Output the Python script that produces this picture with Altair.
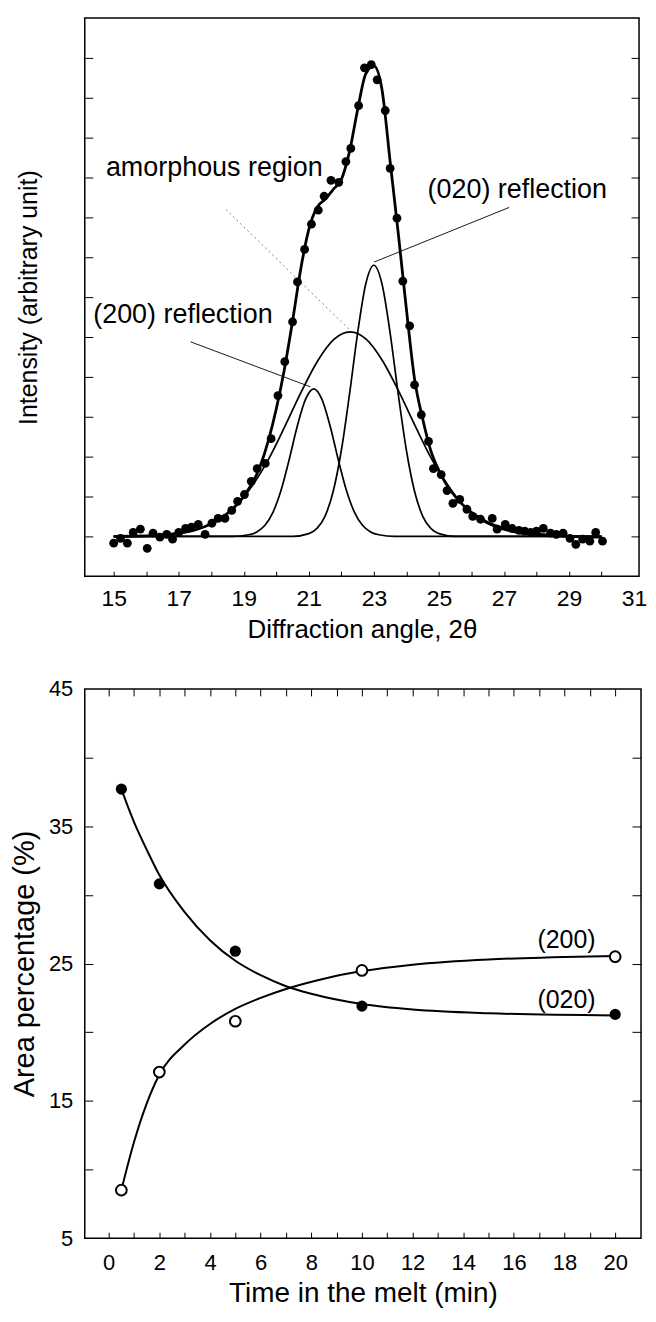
import altair as alt
import pandas as pd

FONT = "Liberation Sans"

# ---------------- top panel: X-ray diffraction profile ----------------
xrd_angle = [15.00, 15.21, 15.42, 15.60, 15.82, 16.03, 16.21, 16.42, 16.63, 16.81,
             17.00, 17.21, 17.39, 17.60, 17.81, 18.02, 18.21, 18.42, 18.63, 18.81,
             19.02, 19.23, 19.41, 19.66, 19.84, 20.05, 20.26, 20.50, 20.65, 20.87,
             21.08, 21.29, 21.47, 21.68, 21.92, 22.14, 22.29, 22.53, 22.71, 22.92,
             23.10, 23.35, 23.50, 23.71, 23.89, 24.10, 24.25, 24.46, 24.68, 24.83,
             25.07, 25.25, 25.43, 25.64, 25.86, 26.04, 26.28, 26.64, 26.79, 27.04,
             27.25, 27.46, 27.64, 27.82, 28.00, 28.21, 28.43, 28.61, 28.82, 29.03,
             29.21, 29.42, 29.64, 29.82, 30.03]
xrd_intensity = [0.83, 0.95, 0.83, 1.10, 1.18, 0.70, 1.08, 0.98, 1.05, 0.93,
                 1.10, 1.20, 1.23, 1.30, 1.05, 1.33, 1.45, 1.45, 1.65, 1.88,
                 2.05, 2.38, 2.70, 2.83, 3.45, 4.53, 5.38, 6.38, 7.38, 8.20,
                 8.83, 9.18, 9.53, 9.93, 9.88, 10.40, 10.73, 11.80, 12.75, 12.83,
                 12.45, 11.68, 10.23, 8.98, 7.40, 6.28, 4.80, 4.05, 3.38, 2.70,
                 2.55, 2.15, 1.83, 1.93, 1.68, 1.50, 1.43, 1.45, 1.18, 1.30,
                 1.20, 1.15, 1.13, 1.10, 1.13, 1.20, 1.08, 1.05, 1.08, 0.95,
                 0.80, 0.93, 0.88, 1.10, 0.88]

fit_angle = [15.0, 16.0, 17.0, 17.5, 18.0, 18.5, 19.0, 19.5, 20.0, 20.25,
             20.5, 20.75, 21.0, 21.25, 21.5, 21.75, 22.0, 22.25, 22.5, 22.75,
             23.0, 23.25, 23.5, 23.75, 24.0, 24.25, 24.5, 24.75, 25.0, 25.5,
             26.0, 26.5, 27.0, 28.0, 29.0, 30.0]
fit_intensity = [1.00, 1.01, 1.08, 1.16, 1.32, 1.58, 2.00, 2.75, 4.20, 5.20,
                 6.40, 7.70, 8.70, 9.25, 9.45, 9.70, 9.95, 10.65, 11.70, 12.60,
                 12.80, 12.20, 10.40, 8.60, 6.70, 4.95, 3.95, 3.15, 2.65, 2.00,
                 1.60, 1.35, 1.20, 1.06, 1.00, 0.98]

c200_angle = [15.0, 18.65, 19.15, 19.4, 19.65, 19.9, 20.15, 20.4, 20.65, 20.9, 21.15,
              21.4, 21.65, 21.9, 22.15, 22.4, 22.65, 22.9, 23.15, 23.65, 30.0]
c200_intensity = [1.0, 1.00, 1.04, 1.11, 1.28, 1.61, 2.17, 2.94, 3.78, 4.44, 4.70,
                  4.44, 3.78, 2.94, 2.17, 1.61, 1.28, 1.11, 1.04, 1.00, 1.0]

c020_angle = [15.0, 20.5, 21.0, 21.25, 21.5, 21.75, 22.0, 22.25, 22.5, 22.75, 23.0,
              23.25, 23.5, 23.75, 24.0, 24.25, 24.5, 24.75, 25.0, 25.5, 30.0]
c020_intensity = [1.0, 1.00, 1.07, 1.20, 1.51, 2.13, 3.16, 4.56, 6.10, 7.33, 7.80,
                  7.33, 6.10, 4.56, 3.16, 2.13, 1.51, 1.20, 1.07, 1.00, 1.0]

amor_angle = [15.0, 16.27, 17.27, 18.27, 18.77, 19.27, 19.77, 20.27, 20.77, 21.27, 21.77,
              22.27, 22.77, 23.27, 23.77, 24.27, 24.77, 25.27, 25.77, 26.27, 27.27, 28.27, 30.0]
amor_intensity = [1.0, 1.02, 1.11, 1.43, 1.77, 2.28, 2.95, 3.77, 4.63, 5.40, 5.94,
                  6.13, 5.94, 5.40, 4.63, 3.77, 2.95, 2.28, 1.77, 1.43, 1.11, 1.02, 1.0]

label_text = ["amorphous region", "(200) reflection", "(020) reflection"]
label_x = [14.76, 14.37, 24.65]
label_y = [10.25, 6.55, 9.68]

leader_x1 = [17.36, 27.16]
leader_y1 = [5.88, 9.25]
leader_x2 = [21.05, 23.01]
leader_y2 = [4.75, 7.88]
amor_leader_x1 = [18.45]
amor_leader_y1 = [9.2]
amor_leader_x2 = [22.23]
amor_leader_y2 = [6.2]

top_x_labels = [15, 17, 19, 21, 23, 25, 27, 29, 31]
top_x_ticks = list(range(15, 31))
top_y_ticks = list(range(1, 14))

# ---------------- bottom panel: area percentage ----------------
time_min = [0.5, 2, 5, 10, 20]
area_020 = [37.7, 30.8, 25.9, 21.9, 21.3]
area_200 = [8.5, 17.1, 20.8, 24.5, 25.5]

curve_t_020 = [0.5, 1, 1.5, 2, 3, 4, 5, 6, 7, 8, 10, 12, 15, 20]
curve_020 = [37.7, 35.3, 33.3, 31.45, 28.75, 26.7, 25.2, 24.15, 23.35, 22.8, 22.05, 21.65, 21.38, 21.22]
curve_t_200 = [0.5, 1.0, 1.5, 2.0, 3.0, 4.0, 5.0, 6.0, 7.0, 8.5, 10, 12, 15, 17.5, 20]
curve_200 = [8.5, 12.0, 14.8, 16.9, 19.1, 20.6, 21.7, 22.5, 23.15, 23.9, 24.45, 24.92, 25.3, 25.45, 25.55]

series_label = ["(200)", "(020)"]
series_label_x = [16.93, 16.93]
series_label_y = [26.7, 22.35]

bot_x_labels = list(range(0, 21, 2))
bot_x_ticks = list(range(0, 21))
bot_y_labels = [5, 15, 25, 35, 45]
bot_y_ticks = [10, 15, 20, 25, 30, 35, 40]

# ---------------- helpers ----------------
def tick_axis(orient, values, size):
    return alt.Axis(orient=orient, values=values, labels=False, domain=False, grid=False,
                    ticks=True, tickSize=size, tickWidth=1, tickColor="black",
                    offset=-size, title=None)

AX_TEXT = dict(labelFont=FONT, titleFont=FONT, labelColor="black", titleColor="black",
               titleFontWeight="normal", labelFontWeight="normal")

# ---------------- top chart ----------------
txs = alt.Scale(domain=[14.11, 31.153], nice=False, zero=False)
tys = alt.Scale(domain=[0, 14], nice=False, zero=False)

ax_tx_main = alt.Axis(orient="bottom", values=top_x_labels, ticks=False, domain=False, grid=False,
                      labelFontSize=23, labelPadding=11, labelFlush=False,
                      title="Diffraction angle, 2θ", titleFontSize=26, titlePadding=6, **AX_TEXT)
ax_ty_main = alt.Axis(orient="left", labels=False, ticks=False, domain=False, grid=False,
                      title="Intensity (arbitrary unit)", titleFontSize=25, titlePadding=43,
                      **AX_TEXT)

fit_df = pd.DataFrame({"x": fit_angle, "y": fit_intensity})
c200_df = pd.DataFrame({"x": c200_angle, "y": c200_intensity})
c020_df = pd.DataFrame({"x": c020_angle, "y": c020_intensity})
amor_df = pd.DataFrame({"x": amor_angle, "y": amor_intensity})
pts_df = pd.DataFrame({"x": xrd_angle, "y": xrd_intensity})
lab_df = pd.DataFrame({"x": label_x, "y": label_y, "t": label_text})
lead_df = pd.DataFrame({"x": leader_x1, "y": leader_y1, "x2": leader_x2, "y2": leader_y2})
alead_df = pd.DataFrame({"x": amor_leader_x1, "y": amor_leader_y1,
                         "x2": amor_leader_x2, "y2": amor_leader_y2})

fit_line = alt.Chart(fit_df).mark_line(color="black", strokeWidth=2.8, interpolate="monotone").encode(
    x=alt.X("x:Q", scale=txs, axis=ax_tx_main),
    y=alt.Y("y:Q", scale=tys, axis=ax_ty_main),
)
c200_line = alt.Chart(c200_df).mark_line(color="black", strokeWidth=1.7, interpolate="monotone").encode(
    x=alt.X("x:Q", scale=txs, axis=tick_axis("bottom", top_x_ticks, 5)),
    y=alt.Y("y:Q", scale=tys, axis=tick_axis("left", top_y_ticks, 8)),
)
c020_line = alt.Chart(c020_df).mark_line(color="black", strokeWidth=1.7, interpolate="monotone").encode(
    x=alt.X("x:Q", scale=txs, axis=None),
    y=alt.Y("y:Q", scale=tys, axis=tick_axis("right", top_y_ticks, 8)),
)
amor_line = alt.Chart(amor_df).mark_line(color="black", strokeWidth=1.7, interpolate="monotone").encode(
    x=alt.X("x:Q", scale=txs, axis=None),
    y=alt.Y("y:Q", scale=tys, axis=None),
)
pts = alt.Chart(pts_df).mark_circle(color="black", size=78, opacity=1).encode(
    x=alt.X("x:Q", scale=txs, axis=None),
    y=alt.Y("y:Q", scale=tys, axis=None),
)
leaders = alt.Chart(lead_df).mark_rule(color="black", strokeWidth=0.9).encode(
    x=alt.X("x:Q", scale=txs, axis=None), y=alt.Y("y:Q", scale=tys, axis=None),
    x2="x2:Q", y2="y2:Q",
)
amor_leader = alt.Chart(alead_df).mark_rule(color="#777777", strokeWidth=0.9, strokeDash=[2, 3]).encode(
    x=alt.X("x:Q", scale=txs, axis=None), y=alt.Y("y:Q", scale=tys, axis=None),
    x2="x2:Q", y2="y2:Q",
)
labels = alt.Chart(lab_df).mark_text(align="left", baseline="middle", fontSize=27, font=FONT,
                                     color="black").encode(
    x=alt.X("x:Q", scale=txs, axis=None), y=alt.Y("y:Q", scale=tys, axis=None), text="t:N",
)

top = alt.layer(fit_line, c200_line, c020_line, amor_line, amor_leader, leaders, pts, labels).resolve_axis(
    x="independent", y="independent"
).properties(width=556, height=560)

# ---------------- bottom chart ----------------
bxs = alt.Scale(domain=[-0.945, 21.02], nice=False, zero=False)
bys = alt.Scale(domain=[5, 45], nice=False, zero=False)

ax_bx_main = alt.Axis(orient="bottom", values=bot_x_labels, ticks=False, domain=False, grid=False,
                      labelFontSize=22, labelPadding=14, labelFlush=False,
                      title="Time in the melt (min)", titleFontSize=28, titlePadding=7, **AX_TEXT)
ax_by_main = alt.Axis(orient="left", values=bot_y_labels, ticks=False, domain=False, grid=False,
                      labelFontSize=22, labelPadding=12, labelFlush=False,
                      title="Area percentage (%)", titleFontSize=29, titlePadding=9, **AX_TEXT)

c020b_df = pd.DataFrame({"x": curve_t_020, "y": curve_020})
c200b_df = pd.DataFrame({"x": curve_t_200, "y": curve_200})
p020_df = pd.DataFrame({"x": time_min, "y": area_020})
p200_df = pd.DataFrame({"x": time_min, "y": area_200})
slab_df = pd.DataFrame({"x": series_label_x, "y": series_label_y, "t": series_label})

b_line020 = alt.Chart(c020b_df).mark_line(color="black", strokeWidth=2, interpolate="monotone").encode(
    x=alt.X("x:Q", scale=bxs, axis=ax_bx_main),
    y=alt.Y("y:Q", scale=bys, axis=ax_by_main),
)
b_line200 = alt.Chart(c200b_df).mark_line(color="black", strokeWidth=2, interpolate="monotone").encode(
    x=alt.X("x:Q", scale=bxs, axis=tick_axis("bottom", bot_x_ticks, 6)),
    y=alt.Y("y:Q", scale=bys, axis=tick_axis("left", bot_y_ticks, 8)),
)
b_p020 = alt.Chart(p020_df).mark_circle(color="black", size=125, opacity=1).encode(
    x=alt.X("x:Q", scale=bxs, axis=tick_axis("top", bot_x_ticks, 7)),
    y=alt.Y("y:Q", scale=bys, axis=tick_axis("right", bot_y_ticks, 9)),
)
b_p200 = alt.Chart(p200_df).mark_point(shape="circle", filled=True, fill="white", stroke="black",
                                       strokeWidth=2, size=115, opacity=1).encode(
    x=alt.X("x:Q", scale=bxs, axis=None),
    y=alt.Y("y:Q", scale=bys, axis=None),
)
b_labels = alt.Chart(slab_df).mark_text(align="left", baseline="middle", fontSize=25, font=FONT,
                                        color="black").encode(
    x=alt.X("x:Q", scale=bxs, axis=None), y=alt.Y("y:Q", scale=bys, axis=None), text="t:N",
)

bottom = alt.layer(b_line020, b_line200, b_p020, b_p200, b_labels).resolve_axis(
    x="independent", y="independent"
).properties(width=558, height=551)

chart = alt.vconcat(top, bottom, spacing=34).properties(
    padding={"top": 7, "bottom": 0, "left": 1, "right": 0},
    background="white",
).configure_view(
    stroke="black", strokeWidth=1.5
).configure_axis(
    labelFont=FONT, titleFont=FONT, labelColor="black", titleColor="black",
    titleFontWeight="normal", tickColor="black"
)

chart.save("out.html", embed_options={"renderer": "svg", "actions": False})
